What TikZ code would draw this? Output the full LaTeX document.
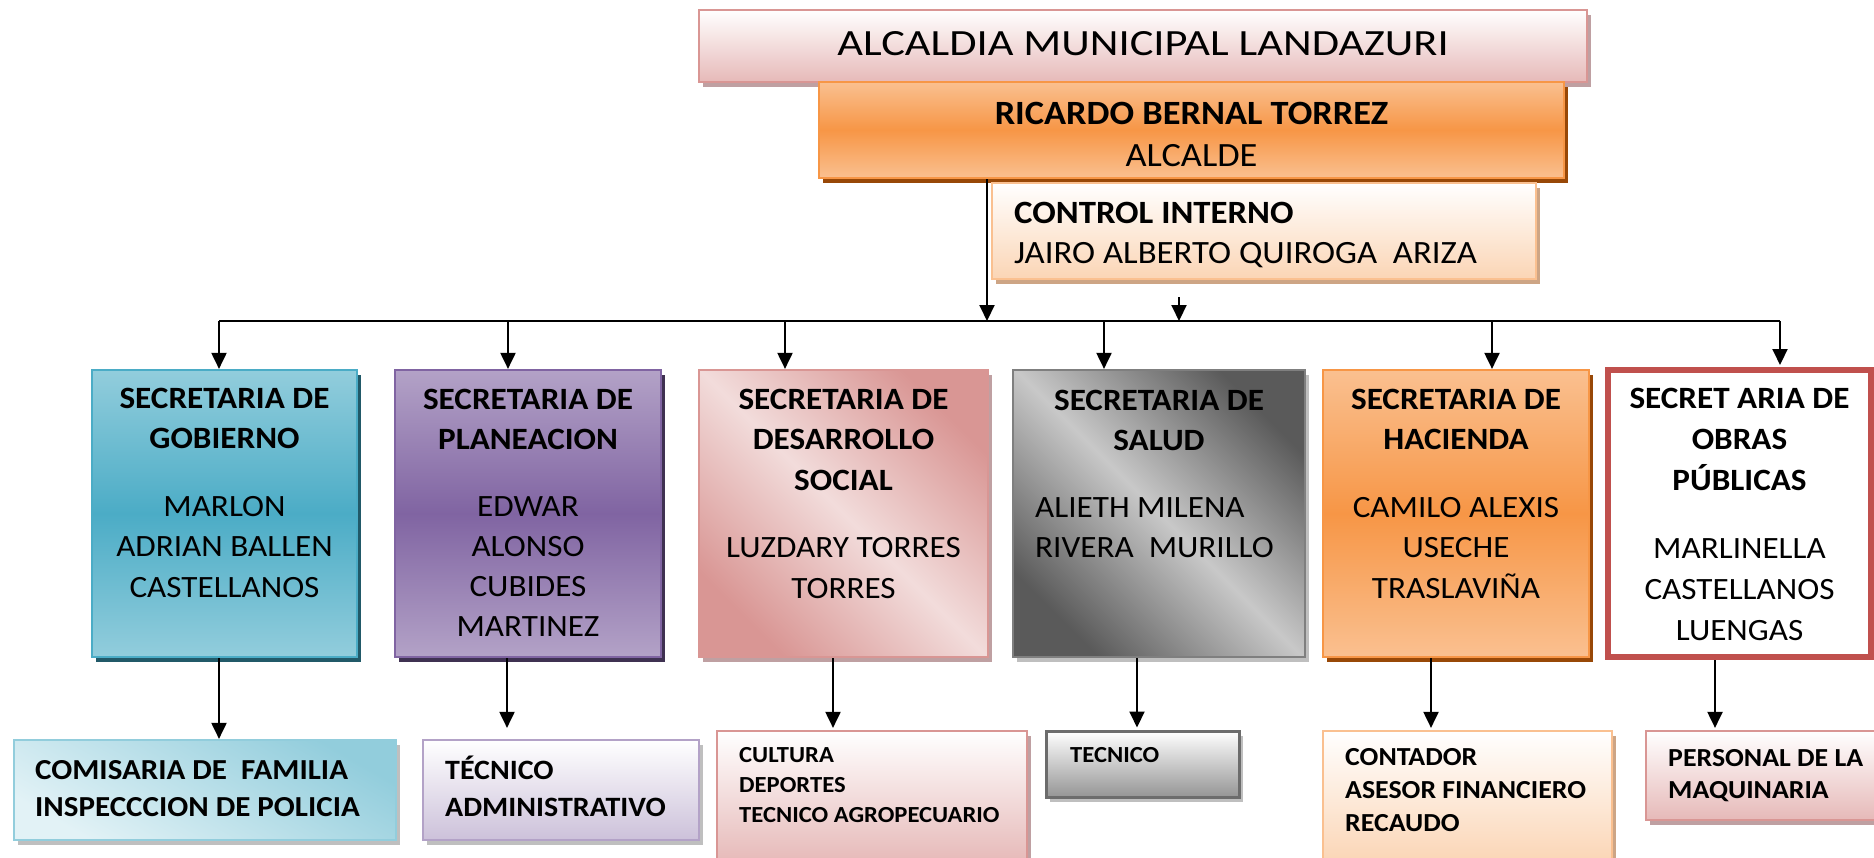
\documentclass[tikz,border=0pt]{standalone}
\usepackage{fontspec}
\setmainfont{Carlito}[FakeStretch=1.07]
\newfontfamily\titlefont{Carlito}[FakeStretch=1.2]
\usetikzlibrary{arrows.meta,shadows}
\definecolor{pinkB}{HTML}{D99694}
\definecolor{pinkM}{HTML}{E6B9B8}
\definecolor{pinkL}{HTML}{F2DCDB}
\definecolor{pinkS}{HTML}{BFA0A2}
\definecolor{orgB}{HTML}{F79646}
\definecolor{orgL}{HTML}{FAC090}
\definecolor{orgS}{HTML}{984807}
\definecolor{peach}{HTML}{FBD5B5}
\definecolor{peachS}{HTML}{CDA585}
\definecolor{tealB}{HTML}{4BACC6}
\definecolor{tealL}{HTML}{92CDDC}
\definecolor{tealP}{HTML}{E2F2F6}
\definecolor{tealS}{HTML}{215968}
\definecolor{purB}{HTML}{8064A2}
\definecolor{purL}{HTML}{B3A2C7}
\definecolor{purP}{HTML}{CCC1DA}
\definecolor{purS}{HTML}{3F3151}
\definecolor{grayD}{HTML}{5A5A5A}
\definecolor{grayM}{HTML}{C8C8C8}
\definecolor{grayB}{HTML}{7F7F7F}
\definecolor{grayS}{HTML}{BFBFBF}
\definecolor{grayT}{HTML}{959595}
\definecolor{redB}{HTML}{C0504D}
\newcommand\myfs[2]{\fontsize{#1}{#2}\selectfont}
\tikzset{
  box/.style={draw, rectangle, inner sep=0pt, line width=2.2pt},
  shd/.style={drop shadow={shadow xshift=4pt, shadow yshift=-5pt, fill=#1, opacity=1}},
  txt/.style={inner sep=0pt, anchor=base},
  txtl/.style={inner sep=0pt, anchor=base west, align=left},
  arr/.style={line width=2pt, -{Triangle[length=16pt,width=15pt]}},
  bus/.style={line width=2pt},
}
\begin{document}
\begin{tikzpicture}[x=1pt,y=-1pt]
\useasboundingbox[fill=white] (0,0) rectangle (1874,857);

% ---- top boxes
\node[box, draw=pinkB, top color=white, bottom color=pinkM, shd=pinkS,
      minimum width=888pt, minimum height=72pt] (title) at (1143,46) {};
\node[box, draw=orgB, top color=orgL, bottom color=orgL, middle color=orgB, shd=orgS,
      minimum width=745pt, minimum height=96pt] (alc) at (1191.5,130) {};
\node[box, draw=orgL, top color=white, bottom color=peach, shd=peachS,
      minimum width=544pt, minimum height=96pt] (ctrl) at (1264,231) {};

\node[txt, font={\titlefont\myfs{37}{40}}] (titlet) at (1143,55) {ALCALDIA MUNICIPAL LANDAZURI};
\node[txt, align=center, font={\myfs{34}{42}}] (alct) at (1191.5,166)
  {\textbf{RICARDO BERNAL TORREZ}\\ALCALDE};
\node[txtl, font={\myfs{32.5}{40}}] (ctrlt) at (1014,263)
  {\textbf{CONTROL INTERNO}\\JAIRO ALBERTO QUIROGA\ \ ARIZA};

% ---- secretarias
\node[box, draw=tealB, top color=tealL, bottom color=tealL, middle color=tealB, shd=tealS,
      minimum width=265pt, minimum height=287pt] (gob) at (224.5,513.5) {};
\node[box, draw=purB, top color=purL, bottom color=purL, middle color=purB, shd=purS,
      minimum width=266pt, minimum height=287pt] (plan) at (528,513.5) {};
\node[box, draw=pinkB, top color=pinkB, bottom color=pinkB, middle color=pinkL, shading angle=-45, shd=pinkS,
      minimum width=289pt, minimum height=287pt] (des) at (843.5,513.5) {};
\node[box, draw=grayB, top color=grayD, bottom color=grayD, middle color=grayM, shading angle=-45, shd=grayS,
      minimum width=292pt, minimum height=287pt] (sal) at (1159,513.5) {};
\node[box, draw=orgB, top color=orgL, bottom color=orgL, middle color=orgB, shd=orgS,
      minimum width=266pt, minimum height=287pt] (hac) at (1456,513.5) {};
\node[box, draw=redB, fill=white, line width=6pt,
      minimum width=263pt, minimum height=287pt] (obr) at (1739.5,513.5) {};

\node[txt, align=center, font={\myfs{31}{40.5}}] (gobt) at (224.5,597)
  {\textbf{SECRETARIA DE}\\\textbf{GOBIERNO}\\[27pt]MARLON\\ADRIAN BALLEN\\CASTELLANOS};
\node[txt, align=center, font={\myfs{31}{40}}] (plant) at (528,636)
  {\textbf{SECRETARIA DE}\\\textbf{PLANEACION}\\[27pt]EDWAR\\ALONSO\\CUBIDES\\MARTINEZ};
\node[txt, align=center, font={\myfs{31}{40.5}}] (dest) at (843.5,598)
  {\textbf{SECRETARIA DE}\\\textbf{DESARROLLO}\\\textbf{SOCIAL}\\[27pt]LUZDARY TORRES\\TORRES};
\node[txt, align=center, font={\myfs{31}{40}}] (salt) at (1159,450)
  {\textbf{SECRETARIA DE}\\\textbf{SALUD}};
\node[txtl, font={\myfs{31}{40}}] (saln) at (1035,557)
  {ALIETH MILENA\\RIVERA\ \ MURILLO};
\node[txt, align=center, font={\myfs{31}{40.5}}] (hact) at (1456,598)
  {\textbf{SECRETARIA DE}\\\textbf{HACIENDA}\\[27pt]CAMILO ALEXIS\\USECHE\\TRASLAVIÑA};
\node[txt, align=center, font={\myfs{31}{41}}] (obrt) at (1739.5,640)
  {\textbf{SECRET ARIA DE}\\\textbf{OBRAS}\\\textbf{PÚBLICAS}\\[27pt]MARLINELLA\\CASTELLANOS\\LUENGAS};

% ---- lower boxes
\node[box, draw=tealL, top color=tealL, bottom color=tealP, shading angle=-30, shd=grayS,
      minimum width=382pt, minimum height=100pt] (com) at (205,790) {};
\node[box, draw=purL, top color=white, bottom color=purP, shd=grayS,
      minimum width=276pt, minimum height=100pt] (tadm) at (561,790) {};
\node[box, draw=pinkB, top color=white, bottom color=pinkM, shd=pinkS,
      minimum width=310pt, minimum height=132pt] (cul) at (872,797) {};
\node[box, draw=grayB!85!black, line width=3pt, top color=white, bottom color=grayT, shd=grayS,
      minimum width=193pt, minimum height=66pt] (tec) at (1142.5,764) {};
\node[box, draw=orgL, top color=white, bottom color=peach, shd=peachS,
      minimum width=289pt, minimum height=132pt] (con) at (1467.5,797) {};
\node[box, draw=pinkB, top color=white, bottom color=pinkM, shd=pinkS,
      minimum width=234pt, minimum height=89pt] (per) at (1763,775.5) {};

\node[txtl, font={\myfs{29}{37}\bfseries}] (comt) at (35,816)
  {COMISARIA DE\ \ FAMILIA\\INSPECCCION DE POLICIA};
\node[txtl, font={\myfs{28}{37}\bfseries}] (tadmt) at (445,816)
  {TÉCNICO\\ADMINISTRATIVO};
\node[txtl, font={\myfs{23}{30}\bfseries}] (cult) at (739,822)
  {CULTURA\\DEPORTES\\TECNICO AGROPECUARIO};
\node[txtl, font={\myfs{23}{30}\bfseries}] (tect) at (1070,762) {TECNICO};
\node[txtl, font={\myfs{26}{33}\bfseries}] (cont) at (1345,831)
  {CONTADOR\\ASESOR FINANCIERO\\RECAUDO};
\node[txtl, font={\myfs{26}{32}\bfseries}] (pert) at (1668,798)
  {PERSONAL DE LA\\MAQUINARIA};

% ---- connectors
\coordinate (bL) at (219,321);
\coordinate (bR) at (1780,321);
\coordinate (aX) at (987,0);
\coordinate (sA) at (1179,297);
\draw[bus] (bL) -- (bR);
\draw[arr] (alc.south -| aX) -- (aX |- bL);
\draw[arr] (sA) -- (sA |- bL);

\coordinate (d1) at (219,321);
\coordinate (d2) at (508,321);
\coordinate (d3) at (785,321);
\coordinate (d4) at (1104,321);
\coordinate (d5) at (1492,321);
\coordinate (d6) at (1780,321);
\draw[arr] (d1) -- (d1 |- gob.north);
\draw[arr] (d2) -- (d2 |- plan.north);
\draw[arr] (d3) -- (d3 |- des.north);
\draw[arr] (d4) -- (d4 |- sal.north);
\draw[arr] (d5) -- (d5 |- hac.north);
\draw[arr, shorten >=2pt] (d6) -- (d6 |- obr.north);

\coordinate (e1) at (219,0);
\coordinate (e2) at (507,0);
\coordinate (e3) at (833,0);
\coordinate (e4) at (1137,0);
\coordinate (e5) at (1431,0);
\coordinate (e6) at (1715,0);
\draw[arr] (gob.south -| e1) -- (com.north -| e1);
\draw[arr, shorten >=11pt] (plan.south -| e2) -- (tadm.north -| e2);
\draw[arr, shorten >=2pt] (des.south -| e3) -- (cul.north -| e3);
\draw[arr, shorten >=2pt] (sal.south -| e4) -- (tec.north -| e4);
\draw[arr, shorten >=2pt] (hac.south -| e5) -- (con.north -| e5);
\draw[arr, shorten >=2pt] (obr.south -| e6) -- (per.north -| e6);
\end{tikzpicture}
\end{document}
